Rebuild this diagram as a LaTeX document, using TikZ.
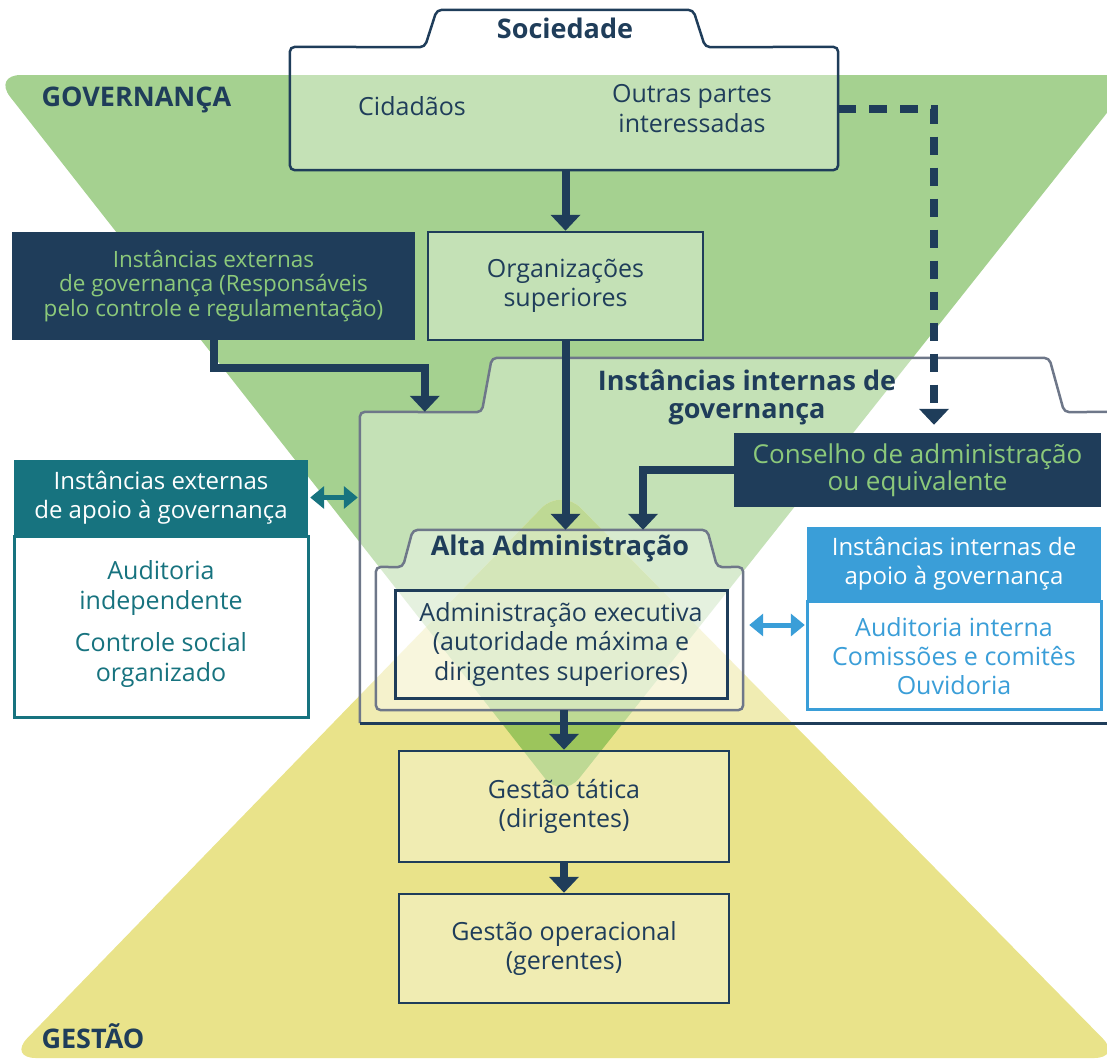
\documentclass[tikz,border=0pt]{standalone}
\usepackage{fontspec}
\setmainfont{Open Sans}
\usepackage{xcolor}
\usetikzlibrary{arrows.meta,positioning}

\definecolor{govnavy}{HTML}{1F3D5A}
\definecolor{govgreen}{HTML}{A5D190}
\definecolor{gestyellow}{HTML}{E9E38A}
\definecolor{lensgreen}{HTML}{9CC55C}
\definecolor{labelgreen}{HTML}{8CC97A}
\definecolor{apoioteal}{HTML}{17737F}
\definecolor{apoioblue}{HTML}{3A9ED8}
\definecolor{framegray}{HTML}{6E7789}

\begin{document}
\begin{tikzpicture}[x=1pt, y=-1pt,
    font=\fontsize{25}{29.5}\selectfont,
    shell/.style={inner sep=0pt},
    box/.style={draw=govnavy, line width=2.5pt, fill=white, fill opacity=0.35, text opacity=1, text=govnavy, align=center, inner sep=0pt},
    darkbox/.style={fill=govnavy, text=labelgreen, align=center, inner sep=0pt},
    tabframe/.style={line width=2.5pt, rounded corners=5pt, fill=white, fill opacity=0.35},
    heading/.style={font=\fontsize{27}{28}\selectfont\bfseries, text=govnavy, align=center},
    headbox/.style={text=white, align=center, inner sep=0pt, minimum width=294pt, font=\fontsize{24}{29}\selectfont},
    arrow/.style={-{Triangle[width=29pt,length=16pt]}, line width=8pt, draw=govnavy},
    twoway/.style={{Triangle[width=22pt,length=14pt]}-{Triangle[width=22pt,length=14pt]}, line width=5pt, shorten <=2pt, shorten >=2pt}]

    \useasboundingbox (0,0) rectangle (1107,1058);

    % governanca and gestao triangles
    \fill[govgreen, rounded corners=28pt] (-7,75) -- (1137,75) -- (562,800) -- cycle;
    \fill[gestyellow, rounded corners=28pt] (561,488) -- (1122,1058) -- (8,1058) -- cycle;
    \begin{scope}
        \clip[rounded corners=28pt] (-7,75) -- (1137,75) -- (562,800) -- cycle;
        \fill[lensgreen, rounded corners=28pt] (561,488) -- (1122,1058) -- (8,1058) -- cycle;
    \end{scope}
    \node[heading, anchor=west] (govlabel) at (38,100) {GOVERNANÇA};
    \node[heading, anchor=west] (gestlabel) at (38,1036) {GESTÃO};

    % sociedade
    \node[shell, minimum width=548pt, minimum height=123pt] (soc) at (564,108.5) {};
    \node[shell, minimum width=256pt, minimum height=37pt] (soctab) at (565,28.5) {};
    \draw[tabframe, draw=govnavy] (soc.south west) -- (soc.north west) -- ([xshift=-12pt]soctab.south west) -- (soctab.north west) -- (soctab.north east) -- ([xshift=12pt]soctab.south east) -- (soc.north east) -- (soc.south east) -- cycle;
    \node[heading] (soclabel) at (soctab) {Sociedade};
    \node[text=govnavy] (cidadaos) at (412,106) {Cidadãos};
    \node[text=govnavy, align=center] (outras) at (692,108.5) {Outras partes\\interessadas};

    \node[box, minimum width=275pt, minimum height=108pt] (orgsup) at (565.5,286) {Organizações\\superiores};
    \node[darkbox, minimum width=403pt, minimum height=108pt, font=\fontsize{22.5}{24.5}\selectfont] (extgov) at (213.5,286) {Instâncias externas\\de governança (Responsáveis\\pelo controle e regulamentação)};

    % instancias internas
    \node[shell, minimum width=747pt, minimum height=311pt] (internas) at (733.5,567.5) {};
    \node[shell, minimum width=557pt, minimum height=54pt] (internastab) at (770.5,385) {};
    \fill[white, fill opacity=0.35, rounded corners=5pt] (internas.north east) -- ([xshift=15pt]internastab.south east) -- (internastab.north east) -- (internastab.north west) -- ([xshift=-10pt]internastab.south west) -- (internas.north west) -- (internas.south west) -- (internas.south east) -- cycle;
    \draw[framegray, line width=2.5pt, rounded corners=5pt] (internas.south west) -- (internas.north west) -- ([xshift=-10pt]internastab.south west) -- (internastab.north west) -- (internastab.north east) -- ([xshift=15pt]internastab.south east) -- (internas.north east);
    \draw[govnavy, line width=3pt] (internas.south west) -- (internas.south east);
    \node[heading] (internaslabel) at (747,397) {Instâncias internas de\\governança};
    \node[darkbox, minimum width=367pt, minimum height=74pt, font=\fontsize{26}{27}\selectfont] (conselho) at (917.5,470) {Conselho de administração\\ou equivalente};

    % alta administracao
    \node[shell, minimum width=367pt, minimum height=143pt] (alta) at (559.5,638.5) {};
    \node[shell, minimum width=294pt, minimum height=37pt] (altatab) at (560,548.5) {};
    \draw[tabframe, draw=framegray] (alta.south west) -- (alta.north west) -- ([xshift=-10pt]altatab.south west) -- (altatab.north west) -- (altatab.north east) -- ([xshift=10pt]altatab.south east) -- (alta.north east) -- (alta.south east) -- cycle;
    \node[heading] (altalabel) at (altatab) {Alta Administração};
    \node[box, line width=3pt, minimum width=332pt, minimum height=108pt] (admexec) at (561,644) {Administração executiva\\(autoridade máxima e\\dirigentes superiores)};

    % gestao
    \node[box, minimum width=330pt, minimum height=111pt] (tatica) at (564,806.5) {Gestão tática\\(dirigentes)};
    \node[box, minimum width=330pt, minimum height=109pt] (operacional) at (564,948.5) {Gestão operacional\\(gerentes)};

    % apoio externo
    \node[headbox, fill=apoioteal, minimum height=75pt] (extapoiohead) at (161,497.5) {Instâncias externas\\de apoio à governança};
    \node[shell, draw=apoioteal, line width=3pt, fill=white, minimum width=294pt, minimum height=181pt, below=0pt of extapoiohead] (extapoiobody) {};
    \node[text=apoioteal, align=center] (auditoria) at (161,588) {Auditoria\\independente};
    \node[text=apoioteal, align=center] (controle) at (161,660) {Controle social\\organizado};

    % apoio interno
    \node[headbox, fill=apoioblue, minimum height=73pt] (intapoiohead) at (954,563.5) {Instâncias internas de\\apoio à governança};
    \node[shell, draw=apoioblue, line width=3pt, fill=white, minimum width=294pt, minimum height=108pt, below=0pt of intapoiohead] (intapoiobody) {};
    \node[text=apoioblue, align=center, font=\fontsize{25}{29}\selectfont] (ouvidoria) at (intapoiobody) {Auditoria interna\\Comissões e comitês\\Ouvidoria};

    % connectors
    \draw[arrow] (soc.south -| orgsup.north) -- (orgsup.north);
    \draw[arrow] (extgov.south) -- ++(0,28) -| ([xshift=65pt]internas.north west);
    \draw[arrow] (orgsup.south) -- (orgsup.south |- altatab.north);
    \draw[arrow] (conselho.west) -| ([xshift=83pt]altatab.north);
    \draw[arrow, dash pattern=on 18pt off 13pt, shorten >=8pt] (soc.east) -| ([xshift=16.5pt]conselho.north);
    \draw[arrow] (alta.south -| tatica.north) -- (tatica.north);
    \draw[arrow] (tatica.south) -- (operacional.north);
    \draw[twoway, apoioteal] (extapoiohead.east) -- (extapoiohead.east -| internas.west);
    \draw[twoway, apoioblue, shorten <=6pt] ([yshift=13.5pt]alta.east) -- ([yshift=13.5pt]alta.east -| intapoiohead.west);

\end{tikzpicture}
\end{document}
